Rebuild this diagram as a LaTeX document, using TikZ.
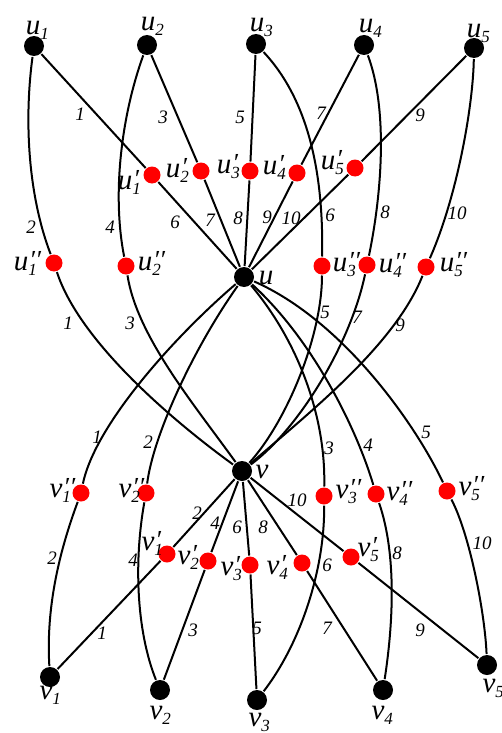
\documentclass[tikz,border=0pt]{standalone}
\usepackage{fontspec}
\setmainfont{Liberation Serif}
\newcommand{\myp}{′}
\newcommand{\mypp}{′\kern0.5pt′}
\newcommand{\nlab}[3]{{\fontsize{29}{29}\selectfont\itshape #1}{\itshape\makebox[10pt][l]{\rlap{\raisebox{-5pt}{\fontsize{17}{17}\selectfont #2}}\raisebox{2pt}{\fontsize{26}{26}\selectfont\hspace{1pt}#3}}}}
\begin{document}
\begin{tikzpicture}[x=1pt,y=-1pt,line width=2pt,
  bn/.style={circle,fill=black,inner sep=0pt,minimum size=20pt},
  rn/.style={circle,fill=red,inner sep=0pt,minimum size=17pt},
  el/.style={font=\fontsize{19}{19}\selectfont\itshape,inner sep=0pt},
  nl/.style={inner sep=0pt}]
\useasboundingbox (0,0) rectangle (501,733);
% black nodes
\node[bn] (u1) at (34,46) {};
\node[bn] (u2) at (147,45) {};
\node[bn] (u3) at (256,44) {};
\node[bn] (u4) at (364,45) {};
\node[bn] (u5) at (474,48) {};
\node[bn] (u) at (244,277) {};
\node[bn] (v) at (242,471) {};
\node[bn] (v1) at (50,677) {};
\node[bn] (v2) at (160,690) {};
\node[bn] (v3) at (257,700) {};
\node[bn] (v4) at (383,690) {};
\node[bn] (v5) at (487,665) {};
% red nodes
\node[rn] (u1p) at (152,175) {};
\node[rn] (u2p) at (201,171) {};
\node[rn] (u3p) at (250,171) {};
\node[rn] (u4p) at (297,173) {};
\node[rn] (u5p) at (355,168) {};
\node[rn] (u1pp) at (54,263) {};
\node[rn] (u2pp) at (126,266) {};
\node[rn] (u3pp) at (322,266) {};
\node[rn] (u4pp) at (367,265) {};
\node[rn] (u5pp) at (426,267) {};
\node[rn] (v1pp) at (81,493) {};
\node[rn] (v2pp) at (146,493) {};
\node[rn] (v3pp) at (324,496) {};
\node[rn] (v4pp) at (376,494) {};
\node[rn] (v5pp) at (447,491) {};
\node[rn] (v1p) at (167,554) {};
\node[rn] (v2p) at (208,561) {};
\node[rn] (v3p) at (250,565) {};
\node[rn] (v4p) at (302,563) {};
\node[rn] (v5p) at (351,557) {};
% straight edges
\draw (u1) -- (u1p) -- (u);
\draw (u2) -- (u2p) -- (u);
\draw (u3) -- (u3p) -- (u);
\draw (u4) -- (u4p) -- (u);
\draw (u5) -- (u5p) -- (u);
\draw (v) -- (v1p) -- (v1);
\draw (v) -- (v2p) -- (v2);
\draw (v) -- (v3p) -- (v3);
\draw (v) -- (v4p) -- (v4);
\draw (v) -- (v5p) -- (v5);
% curved edges
\draw (u1) .. controls (24,120) and (28,195) .. (u1pp);
\draw (u1pp) .. controls (79,340) and (169,418) .. (v);
\draw (u2) .. controls (121,117) and (112,195) .. (u2pp);
\draw (u2pp) .. controls (137,336) and (193,403) .. (v);
\draw (u3) .. controls (318,110) and (323,200) .. (u3pp);
\draw (u3pp) .. controls (322,336) and (287,421) .. (v);
\draw (u4) .. controls (388,109) and (382,193) .. (u4pp);
\draw (u4pp) .. controls (351,342) and (300,428) .. (v);
\draw (u5) .. controls (473,107) and (457,197) .. (u5pp);
\draw (u5pp) .. controls (395,345) and (310,412) .. (v);
\draw (u) .. controls (174,337) and (95,425) .. (v1pp);
\draw (v1pp) .. controls (58,555) and (46,610) .. (v1);
\draw (u) .. controls (193,349) and (153,436) .. (v2pp);
\draw (v2pp) .. controls (134,560) and (136,630) .. (v2);
\draw (u) .. controls (297,340) and (326,415) .. (v3pp);
\draw (v3pp) .. controls (325,565) and (303,640) .. (v3);
\draw (u) .. controls (314,341) and (357,430) .. (v4pp);
\draw (v4pp) .. controls (397,555) and (393,625) .. (v4);
\draw (u) .. controls (342,320) and (415,423) .. (v5pp);
\draw (v5pp) .. controls (470,535) and (485,614) .. (v5);
% edge labels
\node[el] (e1) at (80,114) {1};
\node[el] (e2) at (163,117) {3};
\node[el] (e3) at (240,117) {5};
\node[el] (e4) at (321,113) {7};
\node[el] (e5) at (420,115) {9};
\node[el] (e6) at (175,222) {6};
\node[el] (e7) at (210,220) {7};
\node[el] (e8) at (238,218) {8};
\node[el] (e9) at (267,217) {9};
\node[el] (e10) at (291,218) {10};
\node[el] (e11) at (31,227) {2};
\node[el] (e12) at (110,227) {4};
\node[el] (e13) at (330,215) {6};
\node[el] (e14) at (385,212) {8};
\node[el] (e15) at (457,213) {10};
\node[el] (e16) at (68,323) {1};
\node[el] (e17) at (130,323) {3};
\node[el] (e18) at (325,312) {5};
\node[el] (e19) at (357,317) {7};
\node[el] (e20) at (400,325) {9};
\node[el] (e21) at (97,437) {1};
\node[el] (e22) at (148,442) {2};
\node[el] (e23) at (329,448) {3};
\node[el] (e24) at (368,445) {4};
\node[el] (e25) at (426,432) {5};
\node[el] (e26) at (52,558) {2};
\node[el] (e27) at (133,560) {4};
\node[el] (e28) at (327,565) {6};
\node[el] (e29) at (397,553) {8};
\node[el] (e30) at (482,543) {10};
\node[el] (e31) at (197,513) {2};
\node[el] (e32) at (215,523) {4};
\node[el] (e33) at (237,527) {6};
\node[el] (e34) at (263,527) {8};
\node[el] (e35) at (297,500) {10};
\node[el] (e36) at (102,633) {1};
\node[el] (e37) at (193,630) {3};
\node[el] (e38) at (257,628) {5};
\node[el] (e39) at (327,628) {7};
\node[el] (e40) at (420,630) {9};
% node labels
\node[nl] (lu1) at (38,30) {\nlab{u}{1}{}};
\node[nl] (lu2) at (153,26) {\nlab{u}{2}{}};
\node[nl] (lu3) at (262,27) {\nlab{u}{3}{}};
\node[nl] (lu4) at (371,28) {\nlab{u}{4}{}};
\node[nl] (lu5) at (479,33) {\nlab{u}{5}{}};
\node[nl] (lu) at (266,278) {\fontsize{29}{29}\selectfont\itshape u};
\node[nl] (lv) at (262,472) {\fontsize{29}{29}\selectfont\itshape v};
\node[nl] (lv1) at (51,695) {\nlab{v}{1}{}};
\node[nl] (lv2) at (161,715) {\nlab{v}{2}{}};
\node[nl] (lv3) at (260,722) {\nlab{v}{3}{}};
\node[nl] (lv4) at (383,715) {\nlab{v}{4}{}};
\node[nl] (lv5) at (494,688) {\nlab{v}{5}{}};
\node[nl] (lu1p) at (130,182) {\nlab{u}{1}{\myp}};
\node[nl] (lu2p) at (178,170) {\nlab{u}{2}{\myp}};
\node[nl] (lu3p) at (229,167) {\nlab{u}{3}{\myp}};
\node[nl] (lu4p) at (275,167) {\nlab{u}{4}{\myp}};
\node[nl] (lu5p) at (333,163) {\nlab{u}{5}{\myp}};
\node[nl] (lu1pp) at (26,263) {\nlab{u}{1}{\mypp}};
\node[nl] (lu2pp) at (150,263) {\nlab{u}{2}{\mypp}};
\node[nl] (lu3pp) at (345,265) {\nlab{u}{3}{\mypp}};
\node[nl] (lu4pp) at (391,265) {\nlab{u}{4}{\mypp}};
\node[nl] (lu5pp) at (452,265) {\nlab{u}{5}{\mypp}};
\node[nl] (lv1pp) at (61,490) {\nlab{v}{1}{\mypp}};
\node[nl] (lv2pp) at (130,490) {\nlab{v}{2}{\mypp}};
\node[nl] (lv3pp) at (347,492) {\nlab{v}{3}{\mypp}};
\node[nl] (lv4pp) at (398,493) {\nlab{v}{4}{\mypp}};
\node[nl] (lv5pp) at (470,489) {\nlab{v}{5}{\mypp}};
\node[nl] (lv1p) at (153,543) {\nlab{v}{1}{\myp}};
\node[nl] (lv2p) at (189,557) {\nlab{v}{2}{\myp}};
\node[nl] (lv3p) at (232,569) {\nlab{v}{3}{\myp}};
\node[nl] (lv4p) at (278,567) {\nlab{v}{4}{\myp}};
\node[nl] (lv5p) at (369,550) {\nlab{v}{5}{\myp}};
\end{tikzpicture}
\end{document}
